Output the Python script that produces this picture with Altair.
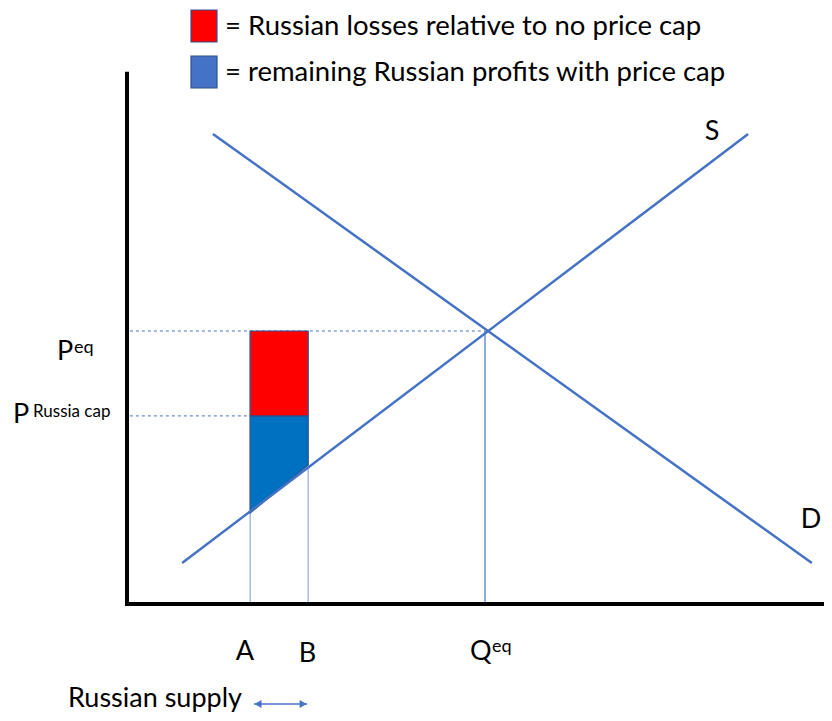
import altair as alt
import pandas as pd

# ---- schematic market values (Qeq = Peq = 100) ----
supply_q = [15.4, 173.5]
supply_p = [15.0, 172.2]
demand_q = [24.0, 191.3]
demand_p = [172.2, 15.0]
q_eq = 100.0
p_eq = 100.0
q_a = 34.4
q_b = 50.6
p_cap = 68.9
supply_at_a = 33.3
supply_at_b = 50.9
axis_top = 195.0
legend_labels = ["= Russian losses relative to no price cap",
                 "= remaining Russian profits with price cap"]
legend_colors = ["#FF0000", "#4472C4"]

FONT = "Lato"
LINE = "#4472C4"
W, H = 816, 705
xs = alt.Scale(domain=[-33.24, 194.69], nice=False, zero=False)
ys = alt.Scale(domain=[-39.93, 218.32], nice=False, zero=False)


def X(f="q"):
    return alt.X(f"{f}:Q", scale=xs, axis=None)


def Y(f="p"):
    return alt.Y(f"{f}:Q", scale=ys, axis=None)


supply = pd.DataFrame({"q": supply_q, "p": supply_p})
demand = pd.DataFrame({"q": demand_q, "p": demand_p})

s_line = alt.Chart(supply).mark_line(color=LINE, strokeWidth=2.5, clip=False).encode(x=X(), y=Y())
d_line = alt.Chart(demand).mark_line(color=LINE, strokeWidth=2.5, clip=False).encode(x=X(), y=Y())

# shaded regions
blue = pd.DataFrame({"q": [q_a, q_b], "p": [supply_at_a, supply_at_b], "p2": [p_cap, p_cap]})
blue_area = alt.Chart(blue).mark_area(color="#0070C0", stroke="#2F528F", strokeWidth=1.2,
                                      opacity=1).encode(x=X(), y=Y(), y2="p2:Q")
red = pd.DataFrame({"q": [q_a], "q2": [q_b], "p": [p_cap], "p2": [p_eq]})
red_rect = alt.Chart(red).mark_rect(color="#FF0000", stroke="#2F528F", strokeWidth=1.2).encode(
    x=X(), x2="q2:Q", y=Y(), y2="p2:Q")

# guide lines
verts = pd.DataFrame({"q": [q_a, q_b, q_eq], "p": [0, 0, 0], "p2": [p_eq, p_eq, p_eq],
                      "c": ["#8FAADC", "#8FAADC", LINE]})
vert_rules = alt.Chart(verts).mark_rule(strokeWidth=1.2).encode(
    x=X(), y=Y(), y2="p2:Q", color=alt.Color("c:N", scale=None))
dashes = pd.DataFrame({"q": [0.8, 0.8], "q2": [q_eq, q_b], "p": [p_eq, p_cap]})
dash_rules = alt.Chart(dashes).mark_rule(color=LINE, strokeWidth=1, strokeDash=[3, 3]).encode(
    x=X(), x2="q2:Q", y=Y())

# axes
axes = pd.DataFrame({"q": [-0.56, 0.0], "q2": [194.69, 0.0], "p": [0.0, -0.73], "p2": [0.0, axis_top]})
axis_rules = alt.Chart(axes).mark_rule(color="black", strokeWidth=4, clip=False).encode(
    x=X(), x2="q2:Q", y=Y(), y2="p2:Q")

# labels (positions are text baselines)
labels = pd.DataFrame([
    {"q": 163.4, "p": 169.96, "t": "S", "s": 27, "a": "center"},
    {"q": 191.06, "p": 27.84, "t": "D", "s": 27, "a": "center"},
    {"q": -19.55, "p": 89.38, "t": "P", "s": 27, "a": "left"},
    {"q": -14.8, "p": 91.94, "t": "eq", "s": 18, "a": "left"},
    {"q": -31.84, "p": 66.30, "t": "P", "s": 27, "a": "left"},
    {"q": -26.26, "p": 68.50, "t": "Russia cap", "s": 17, "a": "left"},
    {"q": 32.96, "p": -20.51, "t": "A", "s": 27, "a": "center"},
    {"q": 50.42, "p": -21.25, "t": "B", "s": 27, "a": "center"},
    {"q": 95.81, "p": -20.51, "t": "Q", "s": 27, "a": "left"},
    {"q": 101.96, "p": -17.58, "t": "eq", "s": 18, "a": "left"},
    {"q": -16.48, "p": -37.6, "t": "Russian supply", "s": 27, "a": "left"},
])
text_layers = []
for (size, align), g in labels.groupby(["s", "a"]):
    text_layers.append(alt.Chart(g).mark_text(font=FONT, fontSize=int(size), align=align,
                                              baseline="alphabetic", color="black").encode(
        x=X(), y=Y(), text="t:N"))

# double arrow next to "Russian supply"
arrow = pd.DataFrame({"q": [35.5], "q2": [50.3], "p": [-36.6]})
arrow_line = alt.Chart(arrow).mark_rule(color=LINE, strokeWidth=1.5).encode(x=X(), x2="q2:Q", y=Y())
heads = pd.DataFrame({"q": [36.6, 49.2], "p": [-36.6, -36.6], "shape": ["triangle-left", "triangle-right"]})
arrow_heads = alt.Chart(heads).mark_point(filled=True, color=LINE, size=65, opacity=1).encode(
    x=X(), y=Y(), shape=alt.Shape("shape:N", scale=None))

# custom legend
leg = pd.DataFrame({"t": legend_labels, "c": legend_colors, "row": [0, 1]})
leg_boxes = alt.Chart(leg).transform_calculate(
    y0="2 + datum.row * 46", y1="34 + datum.row * 46").mark_rect(
    stroke="#2F528F", strokeWidth=1.2).encode(
    x=alt.value(183), x2=alt.value(209),
    y=alt.Y("y0:Q", scale=None, axis=None), y2="y1:Q",
    color=alt.Color("c:N", scale=None))
leg_text = alt.Chart(leg).transform_calculate(yc="26.5 + datum.row * 46").mark_text(
    font=FONT, fontSize=27.5, align="left", baseline="alphabetic", color="black").encode(
    x=alt.value(217), y=alt.Y("yc:Q", scale=None, axis=None), text="t:N")

chart = alt.layer(
    dash_rules, vert_rules, blue_area, red_rect, s_line, d_line, axis_rules,
    *text_layers, arrow_line, arrow_heads, leg_boxes, leg_text
).resolve_scale(y="independent", color="independent", shape="independent").properties(
    width=W, height=H, padding=0, autosize="none"
).configure_view(stroke=None)

chart.save("out.html", embed_options={"renderer": "svg", "actions": False})
